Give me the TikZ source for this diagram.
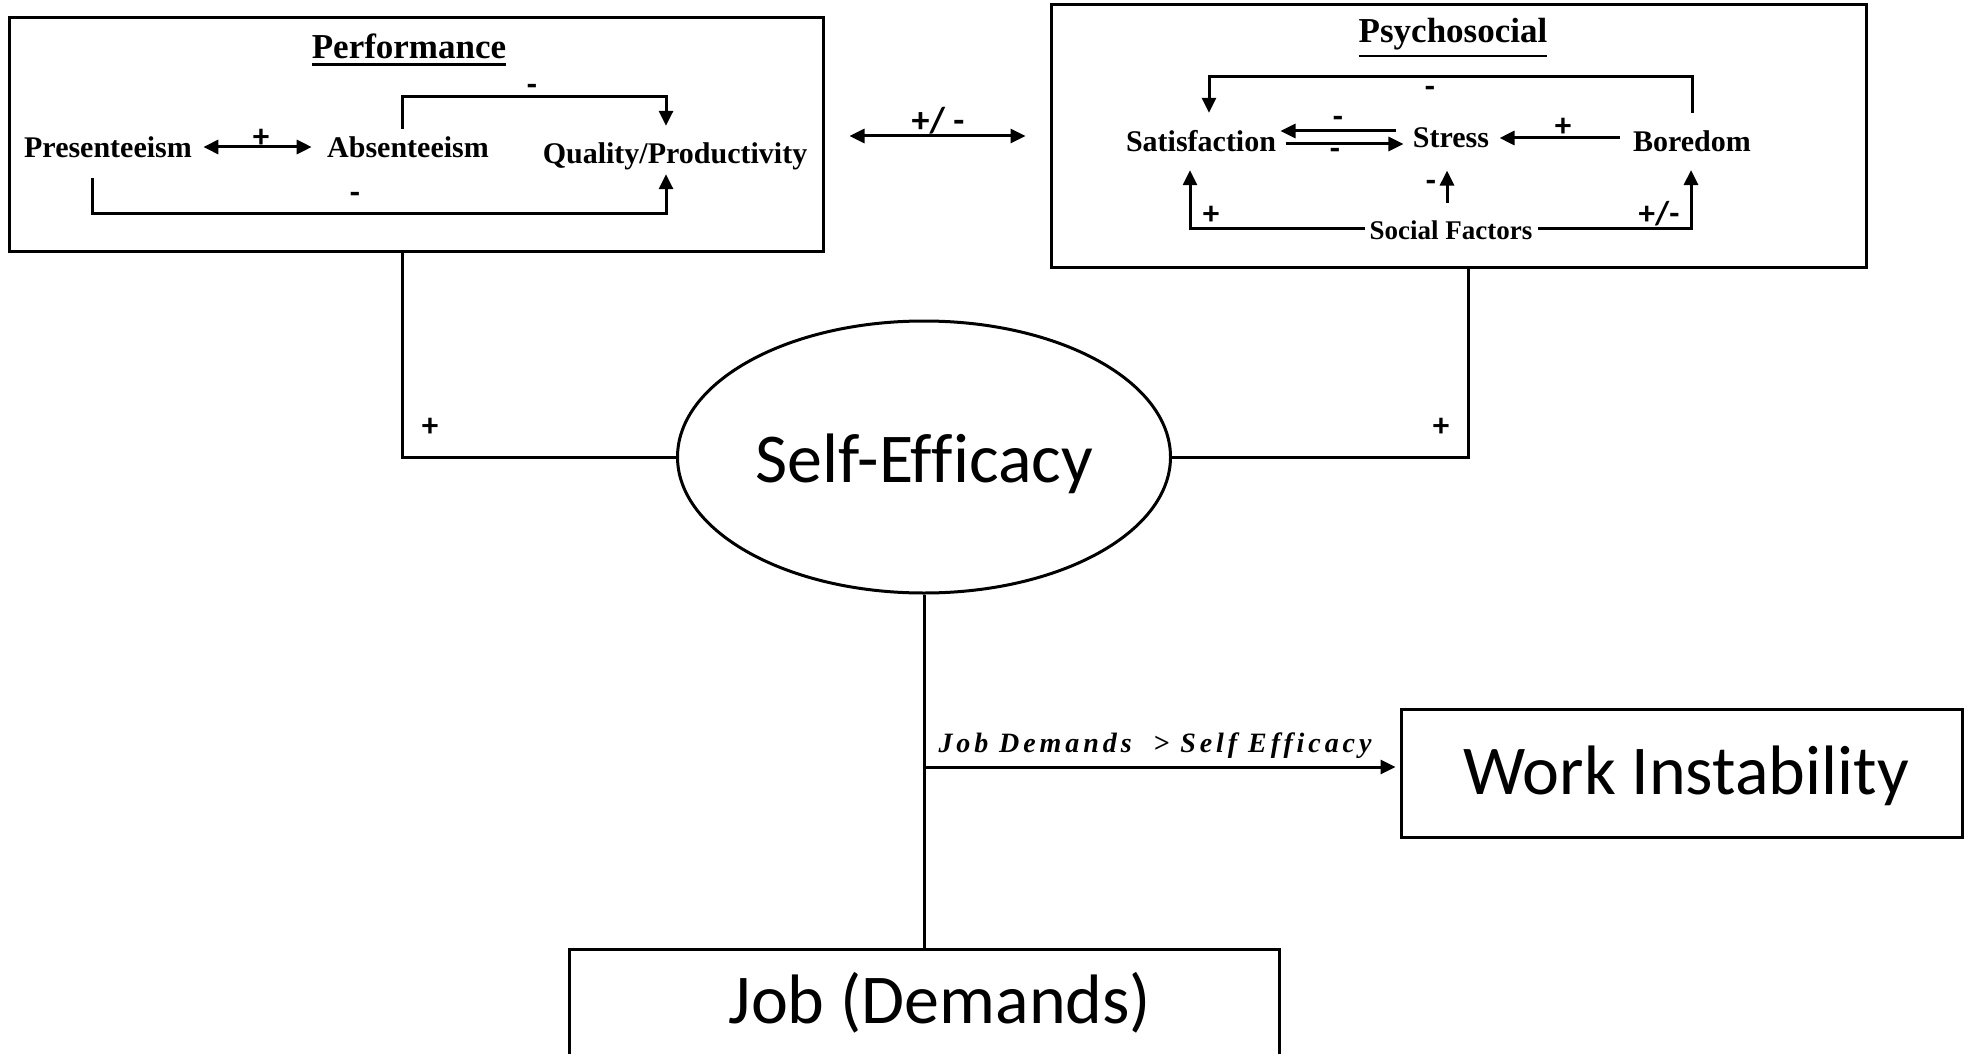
\documentclass[tikz,border=0pt]{standalone}
\usepackage{fontspec}
\setmainfont{Liberation Serif}
\newfontfamily\bigsans[Ligatures=NoCommon]{Carlito}
\newfontfamily\signfont{Carlito}
\newfontfamily\condfont[LetterSpace=14]{Liberation Serif}
\usetikzlibrary{arrows.meta,shapes.geometric}
% heading with a solid rule underneath
\newcommand\headrule[1]{\vtop{\hbox{#1}\kern4pt\hrule height 2.2pt}}

\begin{document}
\begin{tikzpicture}[x=1pt,y=-1pt,line width=3pt,
  box/.style={draw,rectangle,line width=3pt,inner sep=0pt},
  ttl/.style={inner sep=0pt,font=\fontsize{35}{40}\selectfont\bfseries},
  lbl/.style={inner sep=0pt,font=\fontsize{30}{36}\selectfont\bfseries},
  slbl/.style={inner sep=0pt,font=\fontsize{27}{32}\selectfont\bfseries},
  sg/.style={inner sep=0pt,font=\signfont\bfseries\fontsize{33}{36}\selectfont},
  big/.style={font=\bigsans\fontsize{70}{84}\selectfont},
  arr/.style={-{Triangle[length=15pt,width=14pt]}},
  dbl/.style={{Triangle[length=15pt,width=14pt]}-{Triangle[length=15pt,width=14pt]}}]

\clip (0,0) rectangle (1968,1054);
\fill[white] (0,0) rectangle (1968,1054);

% ---- Performance panel ----
\node[box,minimum width=814pt,minimum height=233pt] (perf) at (416,134.5) {};
\node[ttl,anchor=base] (perftitle) at (409,59) {\headrule{Performance}};
\node[lbl] (pres) at (108,147) {Presenteeism};
\node[lbl] (abs) at (408,147) {Absenteeism};
\node[lbl] (qual) at (675,156) {Quality/Productivity};

\draw[dbl] ([xshift=10pt]pres.east) -- ([xshift=-14pt]abs.west);
\node[sg] at (261,138) {+};
\draw[arr] ([xshift=-6pt,yshift=6pt]abs.north) -- ++(0,-32)
  -| ([xshift=-9pt,yshift=15pt]qual.north);
\node[sg] at (532,90) {-};
\draw[arr] ([xshift=-16pt,yshift=-19pt]pres.south) -- ++(0,35)
  -| ([xshift=-9pt,yshift=-3pt]qual.south);
\node[sg] at (355,198) {-};

% ---- Psychosocial panel ----
\node[box,minimum width=815pt,minimum height=262pt] (psy) at (1458.5,136) {};
\node[ttl,anchor=base] (psytitle) at (1453,43) {\headrule{Psychosocial}};
\node[lbl] (sat) at (1201,141) {Satisfaction};
\node[lbl] (stress) at (1451,138) {Stress};
\node[lbl] (bore) at (1692,141) {Boredom};
\node[slbl] (social) at (1451,230) {Social Factors};

\draw[arr] ([yshift=16pt]bore.north) -- ++(0,-36)
  -| ([xshift=8pt,yshift=16pt]sat.north);
\node[sg] at (1430,92) {-};
\draw[arr] ([xshift=-15pt,yshift=7pt]stress.west) -- ([xshift=3pt,yshift=10pt]sat.east);
\draw[arr] ([xshift=8pt,yshift=-3pt]sat.east) -- ([xshift=-8pt,yshift=-6pt]stress.west);
\node[sg] at (1338,122) {-};
\node[sg] at (1335,154) {-};
\draw[arr] ([xshift=-12pt,yshift=3pt]bore.west) -- ([xshift=9pt]stress.east);
\node[sg] at (1563,127) {+};
\draw[arr] ([xshift=-4pt,yshift=16pt]social.north) -- ([xshift=-4pt,yshift=-21pt]stress.south);
\node[sg] at (1431,186) {-};
\draw[arr] ([xshift=-3pt,yshift=2pt]social.west) -| ([xshift=-11pt,yshift=-17pt]sat.south);
\node[sg] at (1211,215) {+};
\draw[arr] ([xshift=4pt,yshift=2pt]social.east) -| ([xshift=-1pt,yshift=-17pt]bore.south);
\node[sg] at (1659,214) {+/-};

% ---- link between the two panels ----
\draw[dbl] ([xshift=25pt,yshift=-1.5pt]perf.east) -- ([xshift=-24pt]psy.west);
\node[sg,font=\signfont\bfseries\fontsize{36}{40}\selectfont] at (938,121) {+/ -};

% ---- central construct ----
\node[draw,ellipse,line width=3pt,inner sep=0pt,minimum width=493pt,minimum height=272pt,big,
  text height=52pt,text depth=2pt] (se) at (924,457) {Self-Efficacy};
\draw ([xshift=-14pt]perf.south) |- (se.west);
\node[sg] at (430,427) {+};
\draw ([xshift=9.5pt]psy.south) |- (se.east);
\node[sg] at (1441,427) {+};

% ---- outcome boxes ----
\node[box,minimum width=561pt,minimum height=128pt,big,text height=50pt,text depth=8pt]
  (wi) at (1681.5,773) {\hspace*{9pt}Work Instability};
\node[box,minimum width=710pt,minimum height=160pt,big,text height=46pt,text depth=58pt]
  (job) at (924,1029) {\hspace*{32pt}Job (Demands)};

\draw (se.south) -- (job.north);
\coordinate (split) at (se.south |- 0,767);
\draw[arr] (split) -- ([xshift=-4pt]split -| wi.west);
\node[inner sep=0pt,font=\condfont\bfseries\itshape\fontsize{28}{32}\selectfont]
  (cond) at (1155,746) {Job Demands \ > Self Efficacy};
\end{tikzpicture}
\end{document}
